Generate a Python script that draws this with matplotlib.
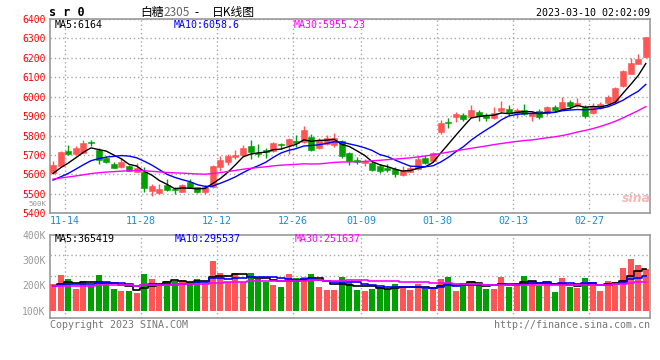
import numpy as np
import pandas as pd
import matplotlib
matplotlib.use("Agg")
import matplotlib.pyplot as plt

W, H = 660, 360

# ==========================================
# 数据: 白糖2305 日K (79 根, 自左到右)
# ==========================================
opens = [5605, 5643, 5721, 5705, 5712, 5769, 5726, 5683, 5654, 5637,
         5643, 5614, 5614, 5515, 5504, 5546, 5525, 5511, 5559, 5534,
         5508, 5534, 5640, 5666, 5691, 5700, 5746, 5712, 5726, 5721,
         5758, 5752, 5770, 5765, 5793, 5734, 5755, 5752, 5770, 5712,
         5674, 5657, 5661, 5645, 5635, 5626, 5597, 5614, 5628, 5686,
         5671, 5818, 5868, 5894, 5906, 5897, 5921, 5906, 5889, 5925,
         5935, 5918, 5932, 5901, 5926, 5914, 5949, 5937, 5975, 5957,
         5949, 5914, 5940, 5969, 5975, 6057, 6119, 6170, 6206]
highs = [5670, 5722, 5752, 5745, 5779, 5779, 5734, 5697, 5662, 5683,
         5649, 5658, 5638, 5552, 5551, 5576, 5537, 5551, 5576, 5537,
         5546, 5648, 5695, 5703, 5726, 5752, 5777, 5757, 5734, 5765,
         5764, 5789, 5805, 5851, 5810, 5789, 5803, 5812, 5777, 5717,
         5692, 5680, 5674, 5652, 5652, 5640, 5644, 5645, 5695, 5700,
         5717, 5880, 5889, 5923, 5914, 5957, 5932, 5914, 5945, 5978,
         5957, 5940, 5962, 5925, 5935, 5952, 5957, 6000, 5983, 5992,
         5957, 5969, 5975, 6007, 6050, 6137, 6199, 6220, 6306]
lows = [5600, 5640, 5700, 5700, 5708, 5748, 5655, 5657, 5631, 5634,
        5616, 5610, 5508, 5491, 5500, 5516, 5499, 5508, 5528, 5505,
        5498, 5528, 5620, 5650, 5678, 5695, 5679, 5691, 5683, 5718,
        5731, 5703, 5740, 5760, 5720, 5730, 5750, 5743, 5683, 5649,
        5654, 5643, 5618, 5609, 5614, 5589, 5592, 5610, 5624, 5655,
        5665, 5808, 5837, 5872, 5877, 5890, 5877, 5877, 5884, 5914,
        5905, 5889, 5906, 5877, 5884, 5908, 5923, 5930, 5935, 5949,
        5892, 5911, 5935, 5962, 5970, 6052, 6115, 6167, 6200]
closes = [5648, 5717, 5705, 5738, 5763, 5760, 5674, 5666, 5635, 5666,
          5619, 5631, 5528, 5539, 5525, 5522, 5520, 5546, 5532, 5508,
          5534, 5645, 5674, 5695, 5700, 5738, 5717, 5705, 5714, 5763,
          5753, 5781, 5764, 5829, 5726, 5777, 5786, 5786, 5697, 5671,
          5666, 5671, 5623, 5618, 5623, 5601, 5623, 5635, 5678, 5661,
          5712, 5863, 5863, 5909, 5884, 5932, 5901, 5889, 5918, 5942,
          5914, 5932, 5911, 5914, 5894, 5947, 5932, 5975, 5952, 5969,
          5901, 5952, 5962, 5997, 6047, 6132, 6175, 6194, 6306]
# 成交量 (K)
volumes = [205, 241, 225, 186, 217, 201, 241, 205, 186, 178,
           178, 170, 245, 225, 205, 217, 217, 221, 213, 225,
           209, 296, 249, 213, 249, 213, 249, 225, 213, 201,
           194, 245, 229, 233, 245, 194, 182, 182, 233, 209,
           182, 178, 186, 194, 186, 205, 194, 182, 205, 186,
           186, 225, 233, 178, 205, 217, 209, 186, 186, 233,
           194, 209, 237, 217, 197, 209, 174, 229, 194, 190,
           229, 209, 178, 217, 213, 269, 304, 280, 265]
# 窗口之前的收盘价/成交量 (估计, 只用于均线起点)
pre_closes = [5540, 5552, 5575, 5590, 5568, 5548, 5560, 5572, 5585, 5560,
              5578, 5595, 5610, 5620, 5602, 5590, 5585, 5598, 5575, 5565,
              5550, 5530, 5518, 5535, 5552, 5570, 5585, 5600, 5622]
pre_volumes = [190, 205, 180, 198, 210, 188, 195, 202, 185, 200,
               192, 208, 186, 197, 203, 190, 199, 184, 206, 193,
               196, 201, 187, 194, 210, 192, 188, 205, 195]

date_pos = [2, 12, 22, 32, 41, 51, 61, 71]
date_labels = ["11-14", "11-28", "12-12", "12-26", "01-09", "01-30", "02-13", "02-27"]
price_ticks = [5400, 5500, 5600, 5700, 5800, 5900, 6000, 6100, 6200, 6300, 6400]
vol_ticks = [100, 200, 300, 400]
vol_labels = ["100K", "200K", "300K", "400K"]
ma_windows = [5, 10, 30]
ma_colors = ["black", "#0000ff", "#ff00ff"]
price_ma_text = ["MA5:6164", "MA10:6058.6", "MA30:5955.23"]
vol_ma_text = ["MA5:365419", "MA10:295537", "MA30:251637"]

RED = "#ff5555"
GREEN = "#00a000"
GRID = "#a8a8a8"
FRAME = "#999999"
DATE_BLUE = "#1a8ad6"
MONO = ["DejaVu Sans Mono"]
CJK = ["Noto Sans CJK SC", "DejaVu Sans"]
VOL_BASE = 100.0
VOL_LO = 72.4


def fxy(x, y):
    """像素坐标 -> figure 坐标"""
    return x / W, 1 - y / H


fig = plt.figure(figsize=(W / 100, H / 100), dpi=100)
ax = fig.add_axes([50 / W, 1 - 213.3 / H, 600 / W, 194.3 / H])
axv = fig.add_axes([50 / W, 1 - 317.7 / H, 600 / W, 83 / H])

x = np.arange(len(closes))
o, hi, lo, c = (np.array(v, dtype=float) for v in (opens, highs, lows, closes))
colors = np.where(c >= o, RED, GREEN)

# K线
ax.vlines(x, lo, hi, colors=colors, linewidth=1, zorder=2)
body = np.maximum(np.abs(c - o), 1.5)
ax.bar(x, body, bottom=np.minimum(o, c), width=0.78, color=colors,
       edgecolor=colors, linewidth=0.4, zorder=3)

n_pre = len(pre_closes)
close_all = pd.Series(pre_closes + closes, dtype=float)
vol_all = pd.Series(pre_volumes + volumes, dtype=float)
for win, col in zip(ma_windows, ma_colors):
    ma = close_all.rolling(win).mean().to_numpy()[n_pre:]
    ax.plot(x, ma, color=col, linewidth=1, zorder=4)
    vma = vol_all.rolling(win).mean().to_numpy()[n_pre:]
    axv.plot(x, vma, color=col, linewidth=1.2, drawstyle="steps-mid", zorder=4)

# 成交量柱
vol = np.array(volumes, dtype=float)
axv.bar(x, vol - VOL_BASE, bottom=VOL_BASE, width=0.78, color=colors,
        linewidth=0, zorder=3)

dot = (0, (1, 2))
for a in (ax, axv):
    a.set_xlim(-0.4, 78.55)
    a.set_xticks([p - 0.42 for p in date_pos])
    for s in a.spines.values():
        s.set_color(FRAME)
        s.set_linewidth(1.2)
    a.tick_params(length=0)
    a.grid(axis="x", color=GRID, linestyle=dot, linewidth=1)
    a.set_axisbelow(True)

ax.set_xticklabels(date_labels, color=DATE_BLUE, fontsize=7.2, family=MONO)
ax.tick_params(axis="x", pad=2)
ax.set_ylim(5400, 6400)
ax.set_yticks(price_ticks)
ax.set_yticklabels([str(t) for t in price_ticks], color="red", fontsize=7, family=MONO)
ax.tick_params(axis="y", pad=3)
ax.grid(axis="y", color=GRID, linestyle=dot, linewidth=1)

axv.set_xticklabels([])
axv.set_ylim(VOL_LO, 400)
axv.set_yticks(vol_ticks)
axv.set_yticklabels(vol_labels, color="#999999", fontsize=7, family=MONO)
axv.tick_params(axis="y", pad=3)
for f in (0.25, 0.5, 0.75):
    axv.axhline(VOL_LO + f * (400 - VOL_LO), color=GRID, linestyle=dot,
                linewidth=1, zorder=0.5)

# 文字
fig.text(*fxy(49, 12.5), "s r 0", family=MONO, fontweight="bold", fontsize=8.5,
         va="center", ha="left")
fig.text(*fxy(140, 12.5), "白糖", family=CJK, fontsize=8.5, va="center", ha="left")
fig.text(*fxy(163, 12.5), "2305", family=CJK, fontsize=8.5, va="center", ha="left",
         color="#666666")
fig.text(*fxy(194, 12.5), "-", family=CJK, fontsize=8.5, va="center", ha="left")
fig.text(*fxy(212, 12.5), "日K线图", family=CJK, fontsize=8.5, va="center", ha="left")
fig.text(*fxy(650, 12.5), "2023-03-10 02:02:09", family=MONO, fontsize=7.2,
         va="center", ha="right")

for xp, txt, col in zip((55, 174, 294), price_ma_text, ma_colors):
    fig.text(*fxy(xp, 24.5), txt, family=MONO, fontsize=7.2, color=col,
             va="center", ha="left")
for xp, txt, col in zip((55, 175, 295), vol_ma_text, ma_colors):
    fig.text(*fxy(xp, 238.5), txt, family=MONO, fontsize=7.2, color=col,
             va="center", ha="left")

# 图中左侧残留的灰色 "500K" 字样 (缩小以免与价格刻度重叠)
fig.text(*fxy(46, 203.8), "500K", family=MONO, fontsize=5.4, color="#999999",
         va="center", ha="right")
fig.text(*fxy(50, 324.5), "Copyright 2023 SINA.COM", family=MONO, fontsize=7.2,
         color="#777777", va="center", ha="left")
fig.text(*fxy(650, 324.5), "http://finance.sina.com.cn", family=MONO, fontsize=7.2,
         color="#777777", va="center", ha="right")
fig.text(*fxy(636, 199), "sina", fontsize=9, fontstyle="italic", fontweight="bold",
         color="#f2b8b8", va="center", ha="center")

fig.savefig("out.png", dpi=100)
